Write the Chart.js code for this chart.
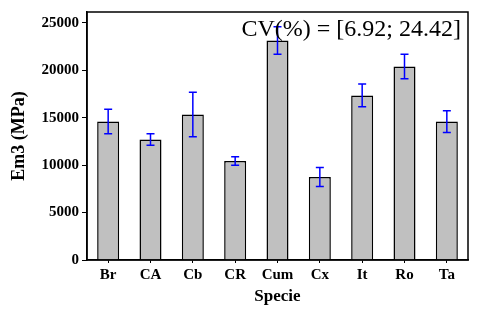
<!DOCTYPE html>
<html>
<head>
<meta charset="utf-8">
<script src="https://cdn.jsdelivr.net/npm/chart.js@4/dist/chart.umd.min.js"></script>
<style>
  body { margin: 0; background: #fff; }
</style>
</head>
<body>
<canvas id="chart" width="492" height="309"></canvas>
<script>
// values
const species = ["Br", "CA", "Cb", "CR", "Cum", "Cx", "It", "Ro", "Ta"];
const em3 = [14600, 12700, 15350, 10450, 23150, 8750, 17350, 20400, 14600];
const em3Err = [1300, 600, 2350, 450, 1450, 1000, 1200, 1300, 1150];
const yTicks = [0, 5000, 10000, 15000, 20000, 25000];
const cvLabel = "CV(%) = [6.92; 24.42]";

const serif = "'Liberation Serif', 'Times New Roman', serif";

// box around plot area + error bars + CV text
const extras = {
  id: "extras",
  afterDatasetsDraw(chart) {
    const ctx = chart.ctx;
    const area = chart.chartArea;
    const x = chart.scales.x;
    const y = chart.scales.y;

    ctx.save();
    ctx.strokeStyle = "#0000ff";
    ctx.lineWidth = 1.5;
    em3.forEach(function (v, i) {
      const cx = x.getPixelForValue(i);
      const top = y.getPixelForValue(v + em3Err[i]);
      const bot = y.getPixelForValue(v - em3Err[i]);
      ctx.beginPath();
      ctx.moveTo(cx, top); ctx.lineTo(cx, bot);
      ctx.moveTo(cx - 4, top); ctx.lineTo(cx + 4, top);
      ctx.moveTo(cx - 4, bot); ctx.lineTo(cx + 4, bot);
      ctx.stroke();
    });

    ctx.strokeStyle = "#000";
    ctx.lineWidth = 1.5;
    ctx.strokeRect(area.left, area.top, area.right - area.left, area.bottom - area.top);

    ctx.fillStyle = "#000";
    ctx.font = "24px " + serif;
    ctx.textAlign = "right";
    ctx.textBaseline = "alphabetic";
    ctx.fillText(cvLabel, area.right - 7, area.top + 24);
    ctx.restore();
  }
};

new Chart("chart", {
  type: "bar",
  data: {
    labels: species,
    datasets: [{
      data: em3,
      backgroundColor: "#c0c0c0",
      borderColor: "#000",
      borderWidth: 1.5,
      barPercentage: 0.52,
      categoryPercentage: 1
    }]
  },
  options: {
    responsive: false,
    animation: false,
    devicePixelRatio: 1,
    layout: { padding: { top: 12, right: 24, left: 0, bottom: 0 } },
    plugins: {
      legend: { display: false },
      tooltip: { enabled: false }
    },
    scales: {
      x: {
        afterFit(scale) { scale.height = 49; },
        grid: { offset: false, drawOnChartArea: false, tickLength: 3, color: "#000", lineWidth: 1 },
        border: { display: true, color: "#000", width: 1.5 },
        ticks: { color: "#000", padding: 3, font: { family: serif, size: 15, weight: "bold" } },
        title: {
          display: true, text: "Specie", color: "#000",
          font: { family: serif, size: 17, weight: "bold" },
          padding: { top: 0, bottom: 2 }
        }
      },
      y: {
        min: 0,
        max: 26150,
        afterFit(scale) { scale.width = 87; },
        afterBuildTicks(scale) { scale.ticks = yTicks.map(v => ({ value: v })); },
        grid: { drawOnChartArea: false, tickLength: 5, color: "#000", lineWidth: 1 },
        border: { display: true, color: "#000", width: 1.5 },
        ticks: {
          color: "#000", padding: 3,
          font: { family: serif, size: 15, weight: "bold" },
          callback: v => String(v)
        },
        title: {
          display: true, text: "Em3 (MPa)", color: "#000",
          font: { family: serif, size: 18, weight: "bold" },
          padding: { top: 9, bottom: 0 }
        }
      }
    }
  },
  plugins: [extras]
});
</script>
</body>
</html>
